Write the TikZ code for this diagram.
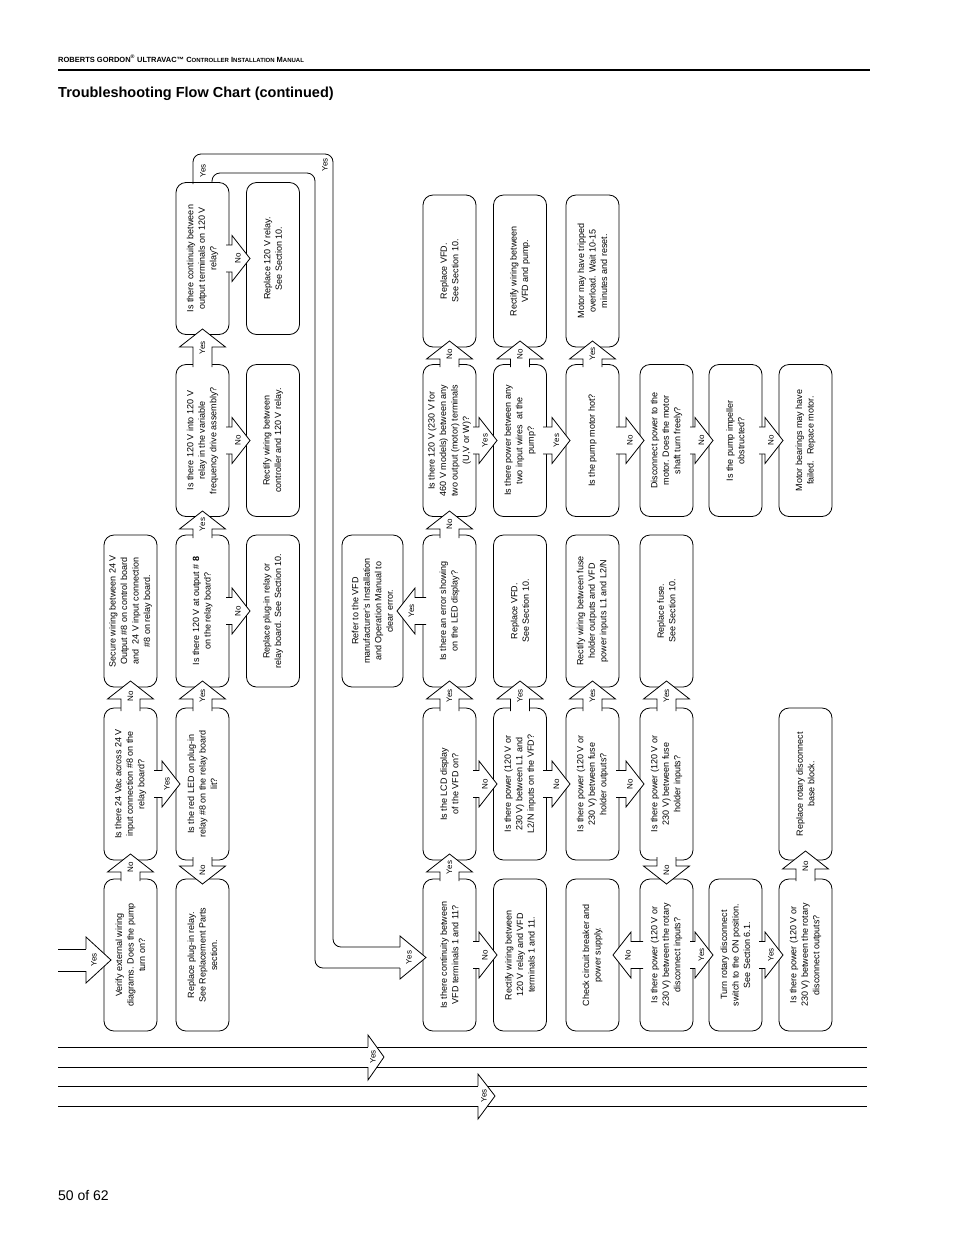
\documentclass[tikz,border=0pt]{standalone}
\usepackage{fontspec}
\setmainfont{Liberation Sans}
\usetikzlibrary{calc}

\tikzset{
  box/.style={draw, rounded corners=10pt, rotate=90, minimum width=152pt, minimum height=53pt,
    align=center, inner sep=1pt, fill=white, font=\fontsize{9}{11.5}\selectfont, line width=0.8pt},
  lbl/.style={rotate=90, inner sep=0pt, font=\fontsize{8}{9}\selectfont},
  aline/.style={line width=0.8pt, fill=white},
}

% block arrow: x, y of tail, angle, length, shaft half width, label
\newcommand{\blockarrow}[6]{%
  \begin{scope}[shift={(#1,#2)}, rotate=#3]
    \filldraw[aline] (0,-#5) -- ({#4-18},-#5) -- ({#4-18},-23) -- (#4,0) -- ({#4-18},23) -- ({#4-18},#5) -- (0,#5);
    \node[lbl] at ({#4/2},0) {#6};
  \end{scope}}

\begin{document}
\begin{tikzpicture}[x=1pt, y=-1pt, >=latex]
\useasboundingbox (0,0) rectangle (954,1235);

\node[anchor=base west, inner sep=0pt, font=\fontsize{7.5}{9}\selectfont\bfseries] (head) at (58,62)
  {ROBERTS GORDON\textsuperscript{\textregistered} ULTRAVAC™ C{\fontsize{6}{9}\selectfont ONTROLLER} I{\fontsize{6}{9}\selectfont NSTALLATION} M{\fontsize{6}{9}\selectfont ANUAL}};
\draw[line width=2pt] (58,70) -- (870,70);
\node[anchor=base west, inner sep=0pt, font=\fontsize{14.5}{16}\selectfont\bfseries] (title) at (58,97) {Troubleshooting Flow Chart (continued)};
\node[anchor=base west, inner sep=0pt, font=\fontsize{14}{16}\selectfont] (page) at (58,1200) {50 of 62};

% column 1
\node[box] (verify) at (130.5,955) {Verify external wiring\\diagrams. Does the pump\\turn on?};
\node[box] (vac) at (130.5,784) {Is there 24 Vac across 24 V\\input connection \#8 on the\\relay board?};
\node[box] (secure) at (130.5,611) {Secure wiring between 24 V\\Output \#8 on control board\\and~ 24 V input connection\\\#8 on relay board.};
% column 2
\node[box] (parts) at (202.5,955) {Replace plug-in relay.\\See Replacement Parts\\section.};
\node[box] (led) at (202.5,784) {Is the red LED on plug-in\\relay \#8 on the relay board\\lit?};
\node[box] (out8) at (202.5,611) {Is there 120 V at output \# \textbf{8}\\on the relay board?};
\node[box] (into) at (202.5,440.5) {Is there 120 V into 120 V\\relay in the variable\\frequency drive assembly?};
\node[box] (contrel) at (202.5,258.5) {Is there continuity between\\output terminals on 120 V\\relay?};
% column 3
\node[box] (relboard) at (273,611) {Replace plug-in relay or\\relay board. See Section 10.};
\node[box] (rectctl) at (273,440.5) {Rectify wiring between\\controller and 120 V relay.};
\node[box] (rep120) at (273,258.5) {Replace 120 V relay.\\See Section 10.};
% column 4
\node[box, minimum height=61pt] (refer) at (372.5,611) {Refer to the VFD\\manufacturer's Installation\\and Operation Manual to\\clear error.};
% column 5
\node[box] (contvfd) at (449.5,955) {Is there continuity between\\VFD terminals 1 and 11?};
\node[box] (lcd) at (449.5,784) {Is the LCD display\\of the VFD on?};
\node[box] (error) at (449.5,611) {Is there an error showing\\on the LED display?};
\node[box] (motterm) at (449.5,440.5) {Is there 120 V (230 V for\\460 V models) between any\\two output (motor) terminals\\(U,V or W)?};
\node[box] (repvfd) at (449.5,271) {Replace VFD.\\See Section 10.};
% column 6
\node[box] (rectterm) at (520,955) {Rectify wiring between\\120 V relay and VFD\\terminals 1 and 11.};
\node[box] (pwrl1) at (520,784) {Is there power (120 V or\\230 V) between L1 and\\L2/N inputs on the VFD?};
\node[box] (repvfdb) at (520,611) {Replace VFD.\\See Section 10.};
\node[box] (pwrpump) at (520,440.5) {Is there power between any\\two input wires~ at the\\pump?};
\node[box] (rectpump) at (520,271) {Rectify wiring between\\VFD and pump.};
% column 7
\node[box] (breaker) at (592.5,955) {Check circuit breaker and\\power supply.};
\node[box] (fuseout) at (592.5,784) {Is there power (120 V or\\230 V) between fuse\\holder outputs?};
\node[box] (rectfuse) at (592.5,611) {Rectify wiring between fuse\\holder outputs and VFD\\power inputs L1 and L2/N};
\node[box] (hot) at (592.5,440.5) {Is the pump motor hot?};
\node[box] (tripped) at (592.5,271) {Motor may have tripped\\overload. Wait 10-15\\minutes and reset.};
% column 8
\node[box] (rotin) at (666.5,955) {Is there power (120 V or\\230 V) between the rotary\\disconnect inputs?};
\node[box] (fusein) at (666.5,784) {Is there power (120 V or\\230 V) between fuse\\holder inputs?};
\node[box] (repfuse) at (666.5,611) {Replace fuse.\\See Section 10.};
\node[box] (shaft) at (666.5,440.5) {Disconnect power to the\\motor. Does the motor\\shaft turn freely?};
% column 9
\node[box] (turn) at (735.5,955) {Turn rotary disconnect\\switch to the ON position.\\See Section 6.1.};
\node[box] (impel) at (735.5,440.5) {Is the pump impeller\\obstructed?};
% column 10
\node[box] (rotout) at (805.5,955) {Is there power (120 V or\\230 V) between the rotary\\disconnect outputs?};
\node[box] (rotblock) at (805.5,784) {Replace rotary disconnect\\base block.};
\node[box] (bearing) at (805.5,440.5) {Motor bearings may have\\failed.~ Repace motor.};

% block arrows up / down
\blockarrow{130.5}{881}{90}{27}{9.5}{No}
\blockarrow{130.5}{711}{90}{30}{9.5}{No}
\blockarrow{202.5}{711}{90}{30}{9.5}{Yes}
\blockarrow{202.5}{857}{-90}{27}{9.5}{No}
\blockarrow{202.5}{538}{90}{27}{9.5}{Yes}
\blockarrow{202.5}{367}{90}{38}{9.5}{Yes}
\blockarrow{449.5}{881}{90}{27}{9.5}{Yes}
\blockarrow{449.5}{711}{90}{30}{9.5}{Yes}
\blockarrow{449.5}{538}{90}{27}{9.5}{No}
\blockarrow{449.5}{367}{90}{26}{9.5}{No}
\blockarrow{520}{711}{90}{30}{9.5}{Yes}
\blockarrow{520}{367}{90}{26}{9.5}{No}
\blockarrow{592.5}{711}{90}{30}{9.5}{Yes}
\blockarrow{592.5}{367}{90}{26}{9.5}{Yes}
\blockarrow{666.5}{711}{90}{30}{9.5}{Yes}
\blockarrow{666.5}{857}{-90}{27}{9.5}{No}
\blockarrow{805.5}{881}{90}{30}{9.5}{No}

% block arrows sideways
\blockarrow{154}{784}{0}{26}{13.5}{Yes}
\blockarrow{226}{611}{0}{24}{13.5}{No}
\blockarrow{226}{440.5}{0}{24}{13.5}{No}
\blockarrow{226}{258.5}{0}{24}{13.5}{No}
\blockarrow{473}{955}{0}{24}{13.5}{No}
\blockarrow{473}{784}{0}{24}{13.5}{No}
\blockarrow{473}{440.5}{0}{24}{13.5}{Yes}
\blockarrow{426}{611}{180}{29}{13.5}{Yes}
\blockarrow{543}{784}{0}{27}{13.5}{No}
\blockarrow{543}{440.5}{0}{27}{13.5}{Yes}
\blockarrow{616}{784}{0}{28}{13.5}{No}
\blockarrow{616}{440.5}{0}{28}{13.5}{No}
\blockarrow{643}{955}{180}{30}{13.5}{No}
\blockarrow{690}{955}{0}{23}{13.5}{Yes}
\blockarrow{690}{440.5}{0}{23}{13.5}{No}
\blockarrow{759}{955}{0}{24}{13.5}{Yes}
\blockarrow{759}{440.5}{0}{24}{13.5}{No}

% Yes channel from relay continuity down to VFD terminals
\coordinate (chA) at (193,184);
\coordinate (chB) at (212,182);
\draw[line width=0.8pt, rounded corners=8pt] (chA) |- (333,154) |- (400,947);
\draw[line width=0.8pt, rounded corners=8pt] (chB) |- (315,173) |- (400,968);
\filldraw[aline] (400,947) -- (400,936) -- (426,957.5) -- (400,979) -- (400,968);
\node[lbl] at (409,957.5) {Yes};
\node[lbl] at (203,171) {Yes};
\node[lbl] at (325,165) {Yes};

% entry from the previous page
\draw[line width=0.8pt] (58,949) -- (86,949);
\draw[line width=0.8pt] (58,971) -- (86,971);
\filldraw[aline] (86,949) -- (86,937) -- (111,960) -- (86,983) -- (86,971);
\node[lbl] at (94,960) {Yes};

% pass-through lines
\foreach \yy in {1047,1067,1086,1106}
  \draw[line width=0.8pt] (58,\yy) -- (867,\yy);
\fill[white] (368,1035) -- (384,1057) -- (368,1080) -- cycle;
\draw[line width=0.8pt] (368,1047) -- (368,1035) -- (384,1057) -- (368,1080) -- (368,1067);
\node[lbl] at (373,1057) {Yes};
\fill[white] (478,1074) -- (495,1096) -- (478,1119) -- cycle;
\draw[line width=0.8pt] (478,1086) -- (478,1074) -- (495,1096) -- (478,1119) -- (478,1106);
\node[lbl] at (484,1096) {Yes};

\end{tikzpicture}
\end{document}
